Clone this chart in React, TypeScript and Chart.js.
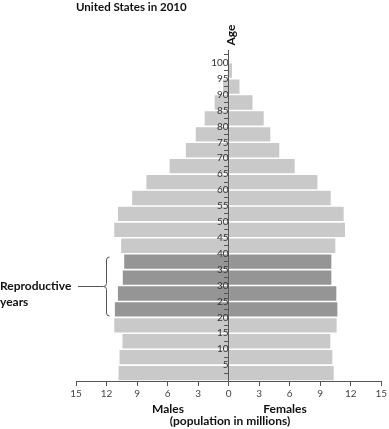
import React, { useEffect, useRef } from "react";
import { Chart, registerables } from "chart.js";

Chart.register(...registerables);

const ageStarts = [0, 5, 10, 15, 20, 25, 30, 35, 40, 45, 50, 55, 60, 65, 70, 75, 80, 85, 90, 95];
const males = [10.82, 10.72, 10.43, 11.24, 11.18, 10.88, 10.4, 10.26, 10.56, 11.24, 10.88, 9.48, 8.08, 5.8, 4.2, 3.23, 2.35, 1.37, 0.55, 0.08];
const females = [10.33, 10.2, 10.0, 10.62, 10.69, 10.59, 10.1, 10.1, 10.49, 11.44, 11.31, 10.04, 8.73, 6.5, 4.98, 4.1, 3.45, 2.35, 1.07, 0.33];
const reproductiveStarts = [20, 25, 30, 35];
const xTicks = [-15, -12, -9, -6, -3, 0, 3, 6, 9, 12, 15];

const LIGHT = "#c9c9c9";
const DARK = "#959595";
const AXIS = "#555555";
const FONT = "Lato, 'Open Sans', sans-serif";

const fitAgeAxis = {
  id: "fitAgeAxis",
  afterLayout(chart: any) {
    const y = chart.scales.y;
    const area = chart.chartArea;
    y.top = area.top;
    y.bottom = area.bottom;
    y.height = area.bottom - area.top;
    y.configure();
  },
};

const annotations = {
  id: "annotations",
  afterDraw(chart: any) {
    const ctx = chart.ctx as CanvasRenderingContext2D;
    ctx.save();
    ctx.fillStyle = "#111";
    ctx.textBaseline = "middle";
    // title
    ctx.font = `bold 11.5px ${FONT}`;
    ctx.textAlign = "left";
    ctx.fillText("United States in 2010", 76, 7);
    // Age (rotated)
    ctx.save();
    ctx.translate(231, 35);
    ctx.rotate(-Math.PI / 2);
    ctx.textAlign = "center";
    ctx.font = `bold 12px ${FONT}`;
    ctx.fillText("Age", 0, 0);
    ctx.restore();
    // bottom labels
    ctx.font = `bold 12px ${FONT}`;
    ctx.textAlign = "center";
    ctx.fillText("Males", 168, 409);
    ctx.fillText("Females", 285, 409);
    ctx.fillText("(population in millions)", 230, 421);
    // reproductive years
    ctx.textAlign = "left";
    ctx.fillText("Reproductive", 0, 286);
    ctx.fillText("years", 0, 302);
    // bracket
    ctx.strokeStyle = AXIS;
    ctx.lineWidth = 1;
    ctx.beginPath();
    ctx.moveTo(78, 286.5);
    ctx.lineTo(103, 286.5);
    ctx.stroke();
    ctx.beginPath();
    ctx.moveTo(109.5, 257);
    ctx.quadraticCurveTo(106.5, 257, 106.5, 260);
    ctx.lineTo(106.5, 283.5);
    ctx.quadraticCurveTo(106.5, 286.5, 103.5, 286.5);
    ctx.quadraticCurveTo(106.5, 286.5, 106.5, 289.5);
    ctx.lineTo(106.5, 313);
    ctx.quadraticCurveTo(106.5, 316, 109.5, 316);
    ctx.stroke();
    ctx.restore();
  },
};

export default function App() {
  const canvasRef = useRef<HTMLCanvasElement | null>(null);

  useEffect(() => {
    if (!canvasRef.current) return;
    const colors = ageStarts.map((a) => (reproductiveStarts.includes(a) ? DARK : LIGHT));
    const chart = new Chart(canvasRef.current, {
      type: "bar",
      data: {
        datasets: [
          {
            label: "Males",
            data: ageStarts.map((a, i) => ({ x: -males[i], y: a + 2.5 })),
            backgroundColor: colors,
            borderWidth: 0,
            grouped: false,
            barPercentage: 0.9,
            categoryPercentage: 1,
          },
          {
            label: "Females",
            data: ageStarts.map((a, i) => ({ x: females[i], y: a + 2.5 })),
            backgroundColor: colors,
            borderWidth: 0,
            grouped: false,
            barPercentage: 0.9,
            categoryPercentage: 1,
          },
        ],
      },
      options: {
        indexAxis: "y",
        animation: false,
        responsive: true,
        maintainAspectRatio: false,
        layout: { padding: { left: 76, right: 6, top: 50, bottom: 0 } },
        plugins: {
          legend: { display: false },
          tooltip: { enabled: false },
          title: { display: false },
        },
        scales: {
          x: {
            type: "linear",
            min: -15,
            max: 15,
            afterFit(scale: any) {
              scale.height = 48;
            },
            afterBuildTicks(scale: any) {
              scale.ticks = xTicks.map((v) => ({ value: v }));
            },
            ticks: {
              color: "#444",
              font: { family: FONT, size: 10 },
              padding: 2,
              z: 1,
              callback: (v: any) => String(Math.abs(Number(v))),
            },
            grid: { drawOnChartArea: false, drawTicks: true, tickLength: 5, color: AXIS, z: 1 },
            border: { display: true, color: AXIS, width: 1, z: 1 },
          },
          y: {
            type: "linear",
            min: 0,
            max: 104,
            offset: false,
            position: { x: 0 },
            afterBuildTicks(scale: any) {
              const t = [];
              for (let v = 5; v <= 100; v += 5) t.push({ value: v });
              scale.ticks = t;
            },
            ticks: {
              color: "#333",
              font: { family: FONT, size: 10 },
              padding: 2,
              z: 1,
            },
            grid: { drawOnChartArea: false, drawTicks: true, tickLength: 4, color: AXIS, z: 1 },
            border: { display: true, color: AXIS, width: 1, z: 1 },
          },
        },
      },
      plugins: [fitAgeAxis, annotations],
    } as any);
    return () => chart.destroy();
  }, []);

  return (
    <div style={{ position: "absolute", left: 0, top: 0, width: 389, height: 429 }}>
      <canvas ref={canvasRef} />
    </div>
  );
}
